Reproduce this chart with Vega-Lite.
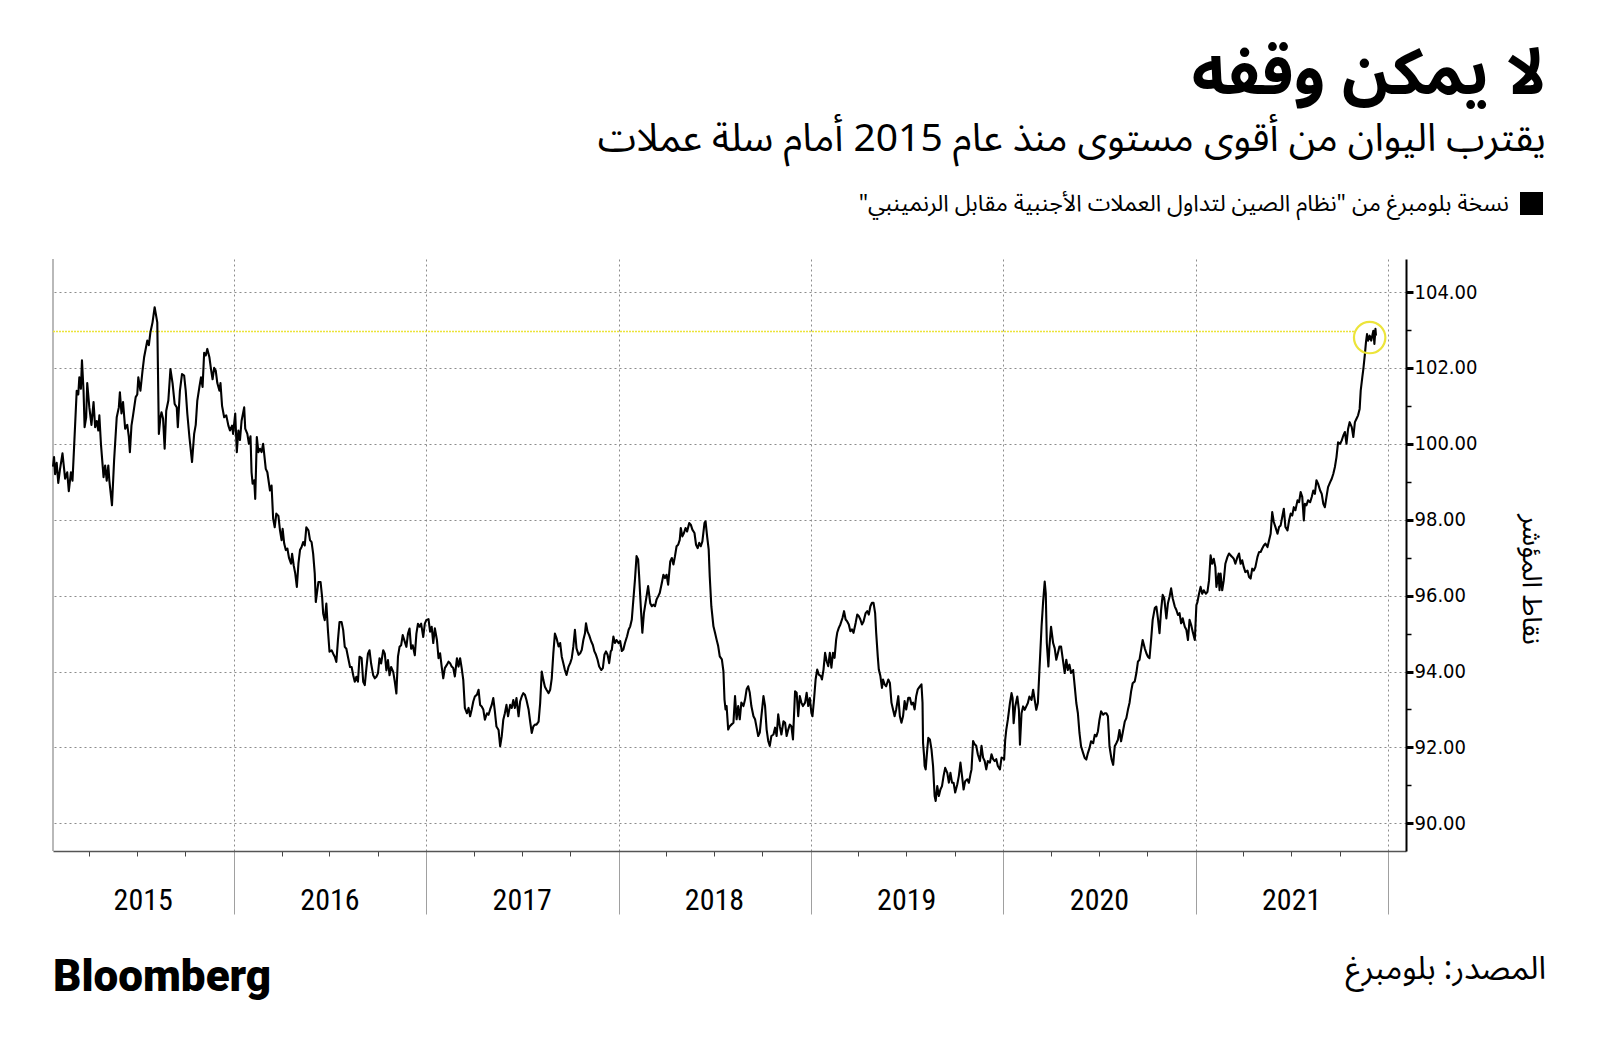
{
"$schema": "https://vega.github.io/schema/vega-lite/v6.json",
"width": 1353,
"height": 592,
"autosize": {"type": "none"},
"padding": {"left": 53, "top": 259, "right": 194, "bottom": 206},
"background": "white",
"config": {"view": {"stroke": null}, "font": "DejaVu Sans"},
"title": {
  "text": "لا يمكن وقفه",
  "subtitle": "يقترب اليوان من أقوى مستوى منذ عام 2015 أمام سلة عملات",
  "anchor": "end",
  "frame": "group",
  "dx": 140,
  "offset": 33,
  "font": "Noto Sans Arabic, DejaVu Sans",
  "fontSize": 64,
  "fontWeight": "bold",
  "color": "#000000",
  "subtitleFont": "Noto Sans Arabic, DejaVu Sans",
  "subtitleFontSize": 39,
  "subtitleColor": "#000000",
  "subtitlePadding": 13
},
"datasets": {
"idx": [
{"d":"2015-01-23","v":99.4},{"d":"2015-01-25","v":99.65},{"d":"2015-01-27","v":99.2},{"d":"2015-01-30","v":99.5},{"d":"2015-02-02","v":98.97},{"d":"2015-02-05","v":99.3},{"d":"2015-02-10","v":99.75},{"d":"2015-02-15","v":99.08},{"d":"2015-02-19","v":99.25},{"d":"2015-02-22","v":98.75},{"d":"2015-02-26","v":99.25},{"d":"2015-03-01","v":99.03},{"d":"2015-03-04","v":99.9},{"d":"2015-03-09","v":101.4},{"d":"2015-03-12","v":101.3},{"d":"2015-03-14","v":101.75},{"d":"2015-03-17","v":101.45},{"d":"2015-03-19","v":102.2},{"d":"2015-03-22","v":101.4},{"d":"2015-03-24","v":100.44},{"d":"2015-03-27","v":100.7},{"d":"2015-03-29","v":101.6},{"d":"2015-04-02","v":100.96},{"d":"2015-04-06","v":100.5},{"d":"2015-04-10","v":101.1},{"d":"2015-04-13","v":100.44},{"d":"2015-04-16","v":100.6},{"d":"2015-04-19","v":100.35},{"d":"2015-04-21","v":100.75},{"d":"2015-04-24","v":100.0},{"d":"2015-04-29","v":99.12},{"d":"2015-05-02","v":99.43},{"d":"2015-05-05","v":99.03},{"d":"2015-05-08","v":99.43},{"d":"2015-05-10","v":99.03},{"d":"2015-05-15","v":98.38},{"d":"2015-05-19","v":99.56},{"d":"2015-05-24","v":100.7},{"d":"2015-05-28","v":100.96},{"d":"2015-05-30","v":101.36},{"d":"2015-06-02","v":100.8},{"d":"2015-06-05","v":101.1},{"d":"2015-06-09","v":100.4},{"d":"2015-06-13","v":100.5},{"d":"2015-06-16","v":100.18},{"d":"2015-06-18","v":99.78},{"d":"2015-06-21","v":100.48},{"d":"2015-06-24","v":100.75},{"d":"2015-06-29","v":101.23},{"d":"2015-07-02","v":101.3},{"d":"2015-07-04","v":101.75},{"d":"2015-07-08","v":101.4},{"d":"2015-07-12","v":101.93},{"d":"2015-07-15","v":102.28},{"d":"2015-07-18","v":102.5},{"d":"2015-07-21","v":102.72},{"d":"2015-07-24","v":102.6},{"d":"2015-07-27","v":102.94},{"d":"2015-07-31","v":103.2},{"d":"2015-08-04","v":103.6},{"d":"2015-08-09","v":103.2},{"d":"2015-08-12","v":100.26},{"d":"2015-08-15","v":100.7},{"d":"2015-08-17","v":100.83},{"d":"2015-08-20","v":100.66},{"d":"2015-08-23","v":99.87},{"d":"2015-08-26","v":100.87},{"d":"2015-08-30","v":101.14},{"d":"2015-09-03","v":101.97},{"d":"2015-09-07","v":101.6},{"d":"2015-09-11","v":101.05},{"d":"2015-09-15","v":100.96},{"d":"2015-09-17","v":100.44},{"d":"2015-09-21","v":101.4},{"d":"2015-09-25","v":101.84},{"d":"2015-09-29","v":101.8},{"d":"2015-10-02","v":101.4},{"d":"2015-10-05","v":100.8},{"d":"2015-10-09","v":100.18},{"d":"2015-10-14","v":99.52},{"d":"2015-10-18","v":100.26},{"d":"2015-10-21","v":100.5},{"d":"2015-10-24","v":101.14},{"d":"2015-10-28","v":101.5},{"d":"2015-10-31","v":101.75},{"d":"2015-11-03","v":101.5},{"d":"2015-11-06","v":102.4},{"d":"2015-11-09","v":102.33},{"d":"2015-11-12","v":102.5},{"d":"2015-11-16","v":102.28},{"d":"2015-11-19","v":101.97},{"d":"2015-11-22","v":101.7},{"d":"2015-11-25","v":102.0},{"d":"2015-11-28","v":101.93},{"d":"2015-12-01","v":101.6},{"d":"2015-12-05","v":101.4},{"d":"2015-12-07","v":101.6},{"d":"2015-12-10","v":101.0},{"d":"2015-12-14","v":100.7},{"d":"2015-12-18","v":100.75},{"d":"2015-12-22","v":100.48},{"d":"2015-12-25","v":100.35},{"d":"2015-12-29","v":100.48},{"d":"2015-12-31","v":100.26},
{"d":"2016-01-04","v":100.8},{"d":"2016-01-07","v":99.78},{"d":"2016-01-10","v":100.35},{"d":"2016-01-13","v":100.1},{"d":"2016-01-16","v":100.6},{"d":"2016-01-21","v":100.96},{"d":"2016-01-23","v":100.4},{"d":"2016-01-27","v":100.26},{"d":"2016-01-30","v":100.0},{"d":"2016-02-02","v":100.2},{"d":"2016-02-04","v":99.25},{"d":"2016-02-06","v":98.95},{"d":"2016-02-09","v":99.04},{"d":"2016-02-11","v":98.55},{"d":"2016-02-14","v":100.18},{"d":"2016-02-17","v":99.78},{"d":"2016-02-20","v":99.87},{"d":"2016-02-23","v":99.78},{"d":"2016-02-26","v":100.0},{"d":"2016-03-02","v":99.34},{"d":"2016-03-05","v":99.25},{"d":"2016-03-10","v":98.77},{"d":"2016-03-13","v":98.9},{"d":"2016-03-16","v":98.03},{"d":"2016-03-19","v":97.8},{"d":"2016-03-22","v":98.16},{"d":"2016-03-26","v":98.1},{"d":"2016-03-29","v":97.72},{"d":"2016-04-01","v":97.46},{"d":"2016-04-03","v":97.76},{"d":"2016-04-06","v":97.37},{"d":"2016-04-09","v":97.2},{"d":"2016-04-12","v":97.24},{"d":"2016-04-15","v":97.0},{"d":"2016-04-19","v":96.84},{"d":"2016-04-21","v":97.1},{"d":"2016-04-24","v":96.8},{"d":"2016-04-27","v":96.58},{"d":"2016-04-30","v":96.23},{"d":"2016-05-03","v":96.84},{"d":"2016-05-06","v":97.2},{"d":"2016-05-09","v":97.28},{"d":"2016-05-12","v":97.41},{"d":"2016-05-15","v":97.32},{"d":"2016-05-18","v":97.8},{"d":"2016-05-22","v":97.72},{"d":"2016-05-25","v":97.46},{"d":"2016-05-28","v":97.41},{"d":"2016-05-31","v":97.1},{"d":"2016-06-03","v":96.58},{"d":"2016-06-05","v":95.83},{"d":"2016-06-07","v":96.05},{"d":"2016-06-10","v":96.36},{"d":"2016-06-14","v":96.36},{"d":"2016-06-17","v":95.96},{"d":"2016-06-19","v":95.53},{"d":"2016-06-22","v":95.35},{"d":"2016-06-25","v":95.79},{"d":"2016-06-28","v":95.09},{"d":"2016-07-01","v":94.52},{"d":"2016-07-05","v":94.56},{"d":"2016-07-08","v":94.47},{"d":"2016-07-11","v":94.39},{"d":"2016-07-14","v":94.25},{"d":"2016-07-17","v":94.82},{"d":"2016-07-20","v":95.3},{"d":"2016-07-24","v":95.3},{"d":"2016-07-27","v":95.09},{"d":"2016-07-30","v":94.65},{"d":"2016-08-02","v":94.6},{"d":"2016-08-05","v":94.39},{"d":"2016-08-09","v":94.12},{"d":"2016-08-12","v":94.12},{"d":"2016-08-15","v":93.9},{"d":"2016-08-18","v":93.73},{"d":"2016-08-21","v":93.86},{"d":"2016-08-24","v":93.73},{"d":"2016-08-27","v":94.39},{"d":"2016-08-31","v":94.35},{"d":"2016-09-03","v":93.73},{"d":"2016-09-06","v":93.64},{"d":"2016-09-09","v":94.08},{"d":"2016-09-12","v":94.47},{"d":"2016-09-15","v":94.56},{"d":"2016-09-18","v":94.21},{"d":"2016-09-22","v":93.9},{"d":"2016-09-25","v":93.82},{"d":"2016-09-28","v":93.86},{"d":"2016-10-01","v":93.95},{"d":"2016-10-04","v":94.35},{"d":"2016-10-07","v":94.21},{"d":"2016-10-11","v":94.56},{"d":"2016-10-14","v":94.47},{"d":"2016-10-17","v":94.03},{"d":"2016-10-20","v":94.3},{"d":"2016-10-23","v":93.9},{"d":"2016-10-26","v":94.12},{"d":"2016-10-30","v":93.99},{"d":"2016-11-02","v":93.73},{"d":"2016-11-05","v":93.42},{"d":"2016-11-08","v":94.39},{"d":"2016-11-11","v":94.65},{"d":"2016-11-14","v":94.69},{"d":"2016-11-17","v":94.96},{"d":"2016-11-21","v":94.78},{"d":"2016-11-24","v":94.65},{"d":"2016-11-27","v":95.0},{"d":"2016-11-30","v":95.13},{"d":"2016-12-03","v":94.6},{"d":"2016-12-06","v":94.69},{"d":"2016-12-10","v":94.43},{"d":"2016-12-13","v":95.0},{"d":"2016-12-16","v":95.26},{"d":"2016-12-19","v":95.18},{"d":"2016-12-22","v":95.26},{"d":"2016-12-26","v":94.91},{"d":"2016-12-29","v":95.26},
{"d":"2017-01-01","v":95.36},{"d":"2017-01-05","v":95.38},{"d":"2017-01-08","v":95.05},{"d":"2017-01-11","v":95.18},{"d":"2017-01-14","v":94.75},{"d":"2017-01-17","v":95.14},{"d":"2017-01-21","v":94.83},{"d":"2017-01-24","v":94.35},{"d":"2017-01-27","v":94.48},{"d":"2017-01-30","v":94.13},{"d":"2017-02-02","v":93.82},{"d":"2017-02-05","v":94.09},{"d":"2017-02-09","v":94.18},{"d":"2017-02-12","v":94.26},{"d":"2017-02-15","v":94.22},{"d":"2017-02-18","v":94.13},{"d":"2017-02-21","v":94.09},{"d":"2017-02-24","v":93.87},{"d":"2017-02-28","v":94.35},{"d":"2017-03-03","v":94.13},{"d":"2017-03-06","v":94.35},{"d":"2017-03-09","v":94.09},{"d":"2017-03-12","v":93.78},{"d":"2017-03-15","v":93.04},{"d":"2017-03-19","v":92.9},{"d":"2017-03-22","v":93.04},{"d":"2017-03-25","v":92.82},{"d":"2017-03-28","v":93.0},{"d":"2017-03-31","v":93.21},{"d":"2017-04-03","v":93.34},{"d":"2017-04-07","v":93.39},{"d":"2017-04-10","v":93.52},{"d":"2017-04-13","v":93.12},{"d":"2017-04-16","v":93.08},{"d":"2017-04-19","v":93.0},{"d":"2017-04-22","v":92.73},{"d":"2017-04-26","v":92.9},{"d":"2017-04-29","v":92.86},{"d":"2017-05-02","v":93.0},{"d":"2017-05-05","v":93.12},{"d":"2017-05-08","v":93.3},{"d":"2017-05-11","v":92.95},{"d":"2017-05-14","v":92.55},{"d":"2017-05-18","v":92.46},{"d":"2017-05-21","v":92.03},{"d":"2017-05-24","v":92.29},{"d":"2017-05-27","v":92.73},{"d":"2017-05-30","v":92.9},{"d":"2017-06-02","v":93.12},{"d":"2017-06-05","v":92.82},{"d":"2017-06-09","v":93.12},{"d":"2017-06-12","v":93.04},{"d":"2017-06-15","v":93.25},{"d":"2017-06-18","v":93.04},{"d":"2017-06-21","v":93.3},{"d":"2017-06-25","v":92.82},{"d":"2017-06-28","v":93.21},{"d":"2017-07-01","v":93.34},{"d":"2017-07-04","v":93.43},{"d":"2017-07-07","v":93.39},{"d":"2017-07-10","v":93.25},{"d":"2017-07-14","v":93.0},{"d":"2017-07-17","v":92.68},{"d":"2017-07-20","v":92.38},{"d":"2017-07-23","v":92.55},{"d":"2017-07-26","v":92.6},{"d":"2017-07-29","v":92.6},{"d":"2017-08-02","v":92.68},{"d":"2017-08-05","v":93.17},{"d":"2017-08-08","v":94.0},{"d":"2017-08-11","v":93.78},{"d":"2017-08-14","v":93.6},{"d":"2017-08-17","v":93.52},{"d":"2017-08-21","v":93.43},{"d":"2017-08-24","v":93.52},{"d":"2017-08-27","v":93.82},{"d":"2017-08-30","v":94.48},{"d":"2017-09-02","v":95.0},{"d":"2017-09-05","v":94.88},{"d":"2017-09-09","v":94.66},{"d":"2017-09-12","v":94.75},{"d":"2017-09-15","v":94.39},{"d":"2017-09-18","v":94.22},{"d":"2017-09-21","v":94.04},{"d":"2017-09-24","v":93.91},{"d":"2017-09-28","v":94.13},{"d":"2017-10-01","v":94.22},{"d":"2017-10-04","v":94.35},{"d":"2017-10-07","v":94.66},{"d":"2017-10-10","v":95.1},{"d":"2017-10-13","v":94.61},{"d":"2017-10-17","v":94.44},{"d":"2017-10-20","v":94.48},{"d":"2017-10-23","v":94.57},{"d":"2017-10-26","v":94.83},{"d":"2017-10-29","v":95.0},{"d":"2017-10-31","v":95.27},{"d":"2017-11-03","v":95.05},{"d":"2017-11-06","v":94.96},{"d":"2017-11-10","v":94.79},{"d":"2017-11-13","v":94.7},{"d":"2017-11-16","v":94.53},{"d":"2017-11-19","v":94.44},{"d":"2017-11-22","v":94.31},{"d":"2017-11-25","v":94.13},{"d":"2017-11-29","v":94.04},{"d":"2017-12-02","v":94.09},{"d":"2017-12-05","v":94.44},{"d":"2017-12-08","v":94.53},{"d":"2017-12-11","v":94.44},{"d":"2017-12-14","v":94.22},{"d":"2017-12-17","v":94.53},{"d":"2017-12-19","v":94.57},{"d":"2017-12-22","v":94.92},{"d":"2017-12-25","v":94.75},{"d":"2017-12-28","v":94.83},
{"d":"2018-01-01","v":94.75},{"d":"2018-01-04","v":94.8},{"d":"2018-01-07","v":94.54},{"d":"2018-01-10","v":94.58},{"d":"2018-01-13","v":94.75},{"d":"2018-01-17","v":94.93},{"d":"2018-01-20","v":95.1},{"d":"2018-01-23","v":95.19},{"d":"2018-01-26","v":95.37},{"d":"2018-01-29","v":95.9},{"d":"2018-02-01","v":96.42},{"d":"2018-02-04","v":97.04},{"d":"2018-02-07","v":96.95},{"d":"2018-02-09","v":96.5},{"d":"2018-02-12","v":95.72},{"d":"2018-02-15","v":95.02},{"d":"2018-02-18","v":95.54},{"d":"2018-02-21","v":95.8},{"d":"2018-02-24","v":96.07},{"d":"2018-02-26","v":96.25},{"d":"2018-03-02","v":95.8},{"d":"2018-03-05","v":95.72},{"d":"2018-03-08","v":95.76},{"d":"2018-03-11","v":95.72},{"d":"2018-03-14","v":95.9},{"d":"2018-03-17","v":95.98},{"d":"2018-03-20","v":96.07},{"d":"2018-03-24","v":96.33},{"d":"2018-03-27","v":96.55},{"d":"2018-03-30","v":96.46},{"d":"2018-04-02","v":96.55},{"d":"2018-04-05","v":96.29},{"d":"2018-04-09","v":96.9},{"d":"2018-04-12","v":96.99},{"d":"2018-04-15","v":96.82},{"d":"2018-04-18","v":97.04},{"d":"2018-04-21","v":97.3},{"d":"2018-04-24","v":97.34},{"d":"2018-04-27","v":97.47},{"d":"2018-04-29","v":97.78},{"d":"2018-05-02","v":97.56},{"d":"2018-05-05","v":97.65},{"d":"2018-05-08","v":97.78},{"d":"2018-05-11","v":97.69},{"d":"2018-05-15","v":97.91},{"d":"2018-05-18","v":97.87},{"d":"2018-05-21","v":97.74},{"d":"2018-05-25","v":97.65},{"d":"2018-05-28","v":97.34},{"d":"2018-05-31","v":97.25},{"d":"2018-06-03","v":97.39},{"d":"2018-06-06","v":97.3},{"d":"2018-06-09","v":97.43},{"d":"2018-06-13","v":97.91},{"d":"2018-06-15","v":97.96},{"d":"2018-06-18","v":97.56},{"d":"2018-06-21","v":97.21},{"d":"2018-06-23","v":96.5},{"d":"2018-06-26","v":95.72},{"d":"2018-06-30","v":95.19},{"d":"2018-07-03","v":95.02},{"d":"2018-07-06","v":94.84},{"d":"2018-07-09","v":94.67},{"d":"2018-07-12","v":94.4},{"d":"2018-07-16","v":94.32},{"d":"2018-07-19","v":94.0},{"d":"2018-07-21","v":93.26},{"d":"2018-07-23","v":93.0},{"d":"2018-07-25","v":93.09},{"d":"2018-07-28","v":92.47},{"d":"2018-07-31","v":92.56},{"d":"2018-08-03","v":92.6},{"d":"2018-08-07","v":92.65},{"d":"2018-08-10","v":93.35},{"d":"2018-08-13","v":92.74},{"d":"2018-08-16","v":93.09},{"d":"2018-08-19","v":92.74},{"d":"2018-08-22","v":93.18},{"d":"2018-08-26","v":93.09},{"d":"2018-08-29","v":93.26},{"d":"2018-09-01","v":93.53},{"d":"2018-09-04","v":93.61},{"d":"2018-09-07","v":93.44},{"d":"2018-09-10","v":93.09},{"d":"2018-09-14","v":92.82},{"d":"2018-09-17","v":92.74},{"d":"2018-09-20","v":92.52},{"d":"2018-09-23","v":92.3},{"d":"2018-09-26","v":92.39},{"d":"2018-09-29","v":92.82},{"d":"2018-10-03","v":93.35},{"d":"2018-10-06","v":93.09},{"d":"2018-10-09","v":92.47},{"d":"2018-10-12","v":92.17},{"d":"2018-10-15","v":92.04},{"d":"2018-10-18","v":92.3},{"d":"2018-10-22","v":92.34},{"d":"2018-10-25","v":92.52},{"d":"2018-10-28","v":92.3},{"d":"2018-10-31","v":92.87},{"d":"2018-11-03","v":92.56},{"d":"2018-11-06","v":92.34},{"d":"2018-11-10","v":92.69},{"d":"2018-11-13","v":92.65},{"d":"2018-11-16","v":92.3},{"d":"2018-11-19","v":92.47},{"d":"2018-11-22","v":92.6},{"d":"2018-11-25","v":92.56},{"d":"2018-11-28","v":92.21},{"d":"2018-12-02","v":93.48},{"d":"2018-12-05","v":93.44},{"d":"2018-12-08","v":92.82},{"d":"2018-12-11","v":93.35},{"d":"2018-12-14","v":93.18},{"d":"2018-12-17","v":93.09},{"d":"2018-12-21","v":93.18},{"d":"2018-12-24","v":93.44},{"d":"2018-12-27","v":93.09},{"d":"2018-12-30","v":93.3},
{"d":"2019-01-02","v":92.91},{"d":"2019-01-04","v":92.82},{"d":"2019-01-07","v":93.26},{"d":"2019-01-10","v":93.79},{"d":"2019-01-13","v":94.05},{"d":"2019-01-16","v":93.92},{"d":"2019-01-20","v":93.88},{"d":"2019-01-22","v":93.79},{"d":"2019-01-25","v":94.05},{"d":"2019-01-28","v":94.49},{"d":"2019-01-31","v":94.27},{"d":"2019-02-03","v":94.14},{"d":"2019-02-06","v":94.49},{"d":"2019-02-09","v":94.1},{"d":"2019-02-12","v":94.49},{"d":"2019-02-15","v":94.36},{"d":"2019-02-18","v":94.84},{"d":"2019-02-20","v":95.02},{"d":"2019-02-23","v":95.15},{"d":"2019-02-26","v":95.24},{"d":"2019-03-02","v":95.41},{"d":"2019-03-05","v":95.59},{"d":"2019-03-08","v":95.37},{"d":"2019-03-11","v":95.32},{"d":"2019-03-14","v":95.24},{"d":"2019-03-17","v":95.06},{"d":"2019-03-20","v":95.11},{"d":"2019-03-23","v":95.02},{"d":"2019-03-27","v":95.28},{"d":"2019-03-30","v":95.5},{"d":"2019-04-02","v":95.46},{"d":"2019-04-05","v":95.37},{"d":"2019-04-08","v":95.24},{"d":"2019-04-11","v":95.32},{"d":"2019-04-15","v":95.54},{"d":"2019-04-18","v":95.59},{"d":"2019-04-21","v":95.5},{"d":"2019-04-24","v":95.72},{"d":"2019-04-27","v":95.81},{"d":"2019-04-30","v":95.81},{"d":"2019-05-03","v":95.54},{"d":"2019-05-05","v":95.02},{"d":"2019-05-08","v":94.4},{"d":"2019-05-10","v":94.05},{"d":"2019-05-13","v":93.88},{"d":"2019-05-16","v":93.57},{"d":"2019-05-18","v":93.79},{"d":"2019-05-21","v":93.66},{"d":"2019-05-24","v":93.61},{"d":"2019-05-28","v":93.79},{"d":"2019-05-31","v":93.7},{"d":"2019-06-03","v":93.18},{"d":"2019-06-06","v":93.0},{"d":"2019-06-09","v":92.82},{"d":"2019-06-12","v":93.0},{"d":"2019-06-16","v":93.35},{"d":"2019-06-19","v":92.82},{"d":"2019-06-22","v":92.65},{"d":"2019-06-25","v":92.82},{"d":"2019-06-28","v":93.22},{"d":"2019-07-01","v":93.0},{"d":"2019-07-05","v":93.31},{"d":"2019-07-08","v":93.31},{"d":"2019-07-11","v":93.13},{"d":"2019-07-14","v":93.18},{"d":"2019-07-17","v":93.0},{"d":"2019-07-20","v":93.35},{"d":"2019-07-23","v":93.53},{"d":"2019-07-27","v":93.61},{"d":"2019-07-30","v":93.66},{"d":"2019-08-01","v":93.18},{"d":"2019-08-02","v":92.12},{"d":"2019-08-04","v":91.77},{"d":"2019-08-05","v":91.51},{"d":"2019-08-07","v":91.42},{"d":"2019-08-10","v":91.95},{"d":"2019-08-12","v":92.25},{"d":"2019-08-15","v":92.21},{"d":"2019-08-18","v":91.95},{"d":"2019-08-21","v":91.51},{"d":"2019-08-24","v":90.72},{"d":"2019-08-26","v":90.59},{"d":"2019-08-29","v":90.98},{"d":"2019-09-01","v":90.72},{"d":"2019-09-04","v":90.89},{"d":"2019-09-07","v":90.98},{"d":"2019-09-10","v":91.25},{"d":"2019-09-13","v":91.46},{"d":"2019-09-17","v":91.33},{"d":"2019-09-20","v":91.07},{"d":"2019-09-23","v":91.33},{"d":"2019-09-26","v":91.07},{"d":"2019-09-29","v":91.07},{"d":"2019-10-02","v":90.81},{"d":"2019-10-06","v":91.03},{"d":"2019-10-09","v":91.25},{"d":"2019-10-12","v":91.6},{"d":"2019-10-15","v":91.25},{"d":"2019-10-18","v":90.89},{"d":"2019-10-21","v":91.11},{"d":"2019-10-25","v":91.16},{"d":"2019-10-28","v":91.07},{"d":"2019-10-31","v":91.29},{"d":"2019-11-02","v":91.42},{"d":"2019-11-05","v":92.17},{"d":"2019-11-08","v":92.08},{"d":"2019-11-11","v":92.04},{"d":"2019-11-14","v":91.82},{"d":"2019-11-18","v":91.64},{"d":"2019-11-21","v":92.04},{"d":"2019-11-24","v":91.73},{"d":"2019-11-27","v":91.64},{"d":"2019-11-30","v":91.42},{"d":"2019-12-03","v":91.64},{"d":"2019-12-07","v":91.6},{"d":"2019-12-10","v":91.82},{"d":"2019-12-13","v":91.69},{"d":"2019-12-16","v":91.64},{"d":"2019-12-19","v":91.69},{"d":"2019-12-22","v":91.51},{"d":"2019-12-26","v":91.42},{"d":"2019-12-29","v":91.73},
{"d":"2020-01-01","v":91.72},{"d":"2020-01-03","v":91.68},{"d":"2020-01-05","v":92.2},{"d":"2020-01-07","v":92.46},{"d":"2020-01-10","v":92.73},{"d":"2020-01-14","v":93.17},{"d":"2020-01-17","v":93.43},{"d":"2020-01-19","v":93.3},{"d":"2020-01-21","v":92.64},{"d":"2020-01-24","v":93.08},{"d":"2020-01-28","v":93.34},{"d":"2020-01-31","v":92.99},{"d":"2020-02-02","v":92.07},{"d":"2020-02-05","v":92.9},{"d":"2020-02-08","v":93.08},{"d":"2020-02-11","v":92.99},{"d":"2020-02-14","v":93.08},{"d":"2020-02-17","v":93.17},{"d":"2020-02-20","v":93.34},{"d":"2020-02-24","v":93.25},{"d":"2020-02-27","v":93.52},{"d":"2020-03-01","v":93.25},{"d":"2020-03-04","v":92.99},{"d":"2020-03-07","v":93.17},{"d":"2020-03-10","v":94.04},{"d":"2020-03-14","v":95.18},{"d":"2020-03-17","v":95.84},{"d":"2020-03-20","v":96.37},{"d":"2020-03-22","v":96.06},{"d":"2020-03-24","v":94.75},{"d":"2020-03-27","v":94.13},{"d":"2020-03-29","v":94.66},{"d":"2020-04-01","v":95.18},{"d":"2020-04-05","v":94.75},{"d":"2020-04-08","v":94.61},{"d":"2020-04-11","v":94.31},{"d":"2020-04-14","v":94.48},{"d":"2020-04-17","v":94.66},{"d":"2020-04-20","v":94.66},{"d":"2020-04-24","v":94.26},{"d":"2020-04-27","v":93.96},{"d":"2020-04-30","v":94.31},{"d":"2020-05-03","v":94.04},{"d":"2020-05-06","v":94.18},{"d":"2020-05-09","v":93.96},{"d":"2020-05-13","v":94.04},{"d":"2020-05-16","v":93.61},{"d":"2020-05-19","v":93.17},{"d":"2020-05-22","v":92.9},{"d":"2020-05-25","v":92.38},{"d":"2020-05-28","v":92.03},{"d":"2020-06-01","v":91.85},{"d":"2020-06-04","v":91.72},{"d":"2020-06-07","v":91.68},{"d":"2020-06-10","v":91.85},{"d":"2020-06-13","v":91.98},{"d":"2020-06-16","v":92.16},{"d":"2020-06-20","v":92.11},{"d":"2020-06-23","v":92.33},{"d":"2020-06-26","v":92.29},{"d":"2020-06-29","v":92.42},{"d":"2020-07-02","v":92.73},{"d":"2020-07-05","v":92.95},{"d":"2020-07-09","v":92.86},{"d":"2020-07-12","v":92.9},{"d":"2020-07-15","v":92.9},{"d":"2020-07-18","v":92.82},{"d":"2020-07-21","v":92.03},{"d":"2020-07-25","v":91.68},{"d":"2020-07-28","v":91.54},{"d":"2020-07-31","v":92.03},{"d":"2020-08-03","v":92.11},{"d":"2020-08-06","v":92.2},{"d":"2020-08-09","v":92.46},{"d":"2020-08-12","v":92.16},{"d":"2020-08-15","v":92.38},{"d":"2020-08-19","v":92.68},{"d":"2020-08-22","v":92.77},{"d":"2020-08-25","v":92.99},{"d":"2020-08-28","v":93.17},{"d":"2020-08-31","v":93.47},{"d":"2020-09-03","v":93.69},{"d":"2020-09-07","v":93.74},{"d":"2020-09-10","v":93.96},{"d":"2020-09-13","v":94.26},{"d":"2020-09-16","v":94.31},{"d":"2020-09-19","v":94.57},{"d":"2020-09-22","v":94.83},{"d":"2020-09-26","v":94.61},{"d":"2020-09-29","v":94.48},{"d":"2020-10-02","v":94.39},{"d":"2020-10-05","v":94.35},{"d":"2020-10-08","v":94.83},{"d":"2020-10-11","v":95.36},{"d":"2020-10-15","v":95.67},{"d":"2020-10-18","v":95.71},{"d":"2020-10-21","v":95.4},{"d":"2020-10-24","v":95.01},{"d":"2020-10-27","v":95.62},{"d":"2020-10-30","v":96.02},{"d":"2020-11-02","v":95.93},{"d":"2020-11-06","v":95.4},{"d":"2020-11-09","v":95.8},{"d":"2020-11-12","v":95.97},{"d":"2020-11-15","v":96.19},{"d":"2020-11-18","v":95.93},{"d":"2020-11-22","v":95.71},{"d":"2020-11-25","v":95.62},{"d":"2020-11-28","v":95.49},{"d":"2020-12-01","v":95.54},{"d":"2020-12-04","v":95.27},{"d":"2020-12-07","v":95.4},{"d":"2020-12-11","v":95.18},{"d":"2020-12-14","v":95.1},{"d":"2020-12-17","v":94.83},{"d":"2020-12-20","v":95.36},{"d":"2020-12-23","v":95.23},{"d":"2020-12-26","v":95.05},{"d":"2020-12-30","v":94.83},
{"d":"2021-01-02","v":95.75},{"d":"2021-01-04","v":95.83},{"d":"2021-01-07","v":96.05},{"d":"2021-01-10","v":96.23},{"d":"2021-01-13","v":96.05},{"d":"2021-01-16","v":96.14},{"d":"2021-01-20","v":96.05},{"d":"2021-01-23","v":96.1},{"d":"2021-01-26","v":96.4},{"d":"2021-01-29","v":97.06},{"d":"2021-02-01","v":96.84},{"d":"2021-02-04","v":96.97},{"d":"2021-02-07","v":96.75},{"d":"2021-02-09","v":96.23},{"d":"2021-02-13","v":96.58},{"d":"2021-02-15","v":96.14},{"d":"2021-02-17","v":96.58},{"d":"2021-02-20","v":96.14},{"d":"2021-02-23","v":96.4},{"d":"2021-02-26","v":96.84},{"d":"2021-03-02","v":97.02},{"d":"2021-03-05","v":97.11},{"d":"2021-03-08","v":97.06},{"d":"2021-03-11","v":97.02},{"d":"2021-03-14","v":96.97},{"d":"2021-03-17","v":96.84},{"d":"2021-03-21","v":97.02},{"d":"2021-03-24","v":97.11},{"d":"2021-03-27","v":96.84},{"d":"2021-03-30","v":96.93},{"d":"2021-04-02","v":96.75},{"d":"2021-04-05","v":96.62},{"d":"2021-04-09","v":96.66},{"d":"2021-04-12","v":96.49},{"d":"2021-04-15","v":96.45},{"d":"2021-04-18","v":96.71},{"d":"2021-04-21","v":96.66},{"d":"2021-04-24","v":96.75},{"d":"2021-04-28","v":97.02},{"d":"2021-05-01","v":97.15},{"d":"2021-05-04","v":97.15},{"d":"2021-05-07","v":97.24},{"d":"2021-05-10","v":97.32},{"d":"2021-05-13","v":97.37},{"d":"2021-05-17","v":97.28},{"d":"2021-05-20","v":97.46},{"d":"2021-05-23","v":97.63},{"d":"2021-05-26","v":98.2},{"d":"2021-05-29","v":97.94},{"d":"2021-06-01","v":97.81},{"d":"2021-06-05","v":97.63},{"d":"2021-06-08","v":97.81},{"d":"2021-06-11","v":97.85},{"d":"2021-06-14","v":98.07},{"d":"2021-06-17","v":98.29},{"d":"2021-06-20","v":97.81},{"d":"2021-06-24","v":97.72},{"d":"2021-06-27","v":97.98},{"d":"2021-06-30","v":98.16},{"d":"2021-07-03","v":98.11},{"d":"2021-07-06","v":98.33},{"d":"2021-07-09","v":98.25},{"d":"2021-07-13","v":98.51},{"d":"2021-07-16","v":98.46},{"d":"2021-07-19","v":98.73},{"d":"2021-07-22","v":98.6},{"d":"2021-07-25","v":97.98},{"d":"2021-07-27","v":98.42},{"d":"2021-07-30","v":98.38},{"d":"2021-08-02","v":98.51},{"d":"2021-08-06","v":98.46},{"d":"2021-08-09","v":98.6},{"d":"2021-08-12","v":98.77},{"d":"2021-08-15","v":98.68},{"d":"2021-08-18","v":99.04},{"d":"2021-08-21","v":98.95},{"d":"2021-08-25","v":98.77},{"d":"2021-08-28","v":98.68},{"d":"2021-08-31","v":98.42},{"d":"2021-09-03","v":98.33},{"d":"2021-09-06","v":98.6},{"d":"2021-09-09","v":98.86},{"d":"2021-09-13","v":98.99},{"d":"2021-09-16","v":99.08},{"d":"2021-09-19","v":99.21},{"d":"2021-09-22","v":99.39},{"d":"2021-09-25","v":99.65},{"d":"2021-09-28","v":100.04},{"d":"2021-10-02","v":100.0},{"d":"2021-10-05","v":100.09},{"d":"2021-10-08","v":100.22},{"d":"2021-10-11","v":100.31},{"d":"2021-10-14","v":100.0},{"d":"2021-10-17","v":100.39},{"d":"2021-10-20","v":100.57},{"d":"2021-10-24","v":100.44},{"d":"2021-10-27","v":100.18},{"d":"2021-10-30","v":100.57},{"d":"2021-11-02","v":100.66},{"d":"2021-11-05","v":100.75},{"d":"2021-11-08","v":100.92},{"d":"2021-11-10","v":101.4},{"d":"2021-11-13","v":101.75},{"d":"2021-11-15","v":101.97},{"d":"2021-11-18","v":102.37},{"d":"2021-11-20","v":102.68},{"d":"2021-11-22","v":102.89},{"d":"2021-11-24","v":102.72},{"d":"2021-11-27","v":102.85},{"d":"2021-11-30","v":102.72},{"d":"2021-12-04","v":102.98},{"d":"2021-12-06","v":102.63},{"d":"2021-12-08","v":103.03},{"d":"2021-12-09","v":102.85}
],
"mark": [{"d":"2021-11-27","v":102.8}],
"ref": [{"d":"2015-01-23","d2":"2021-11-01","v":102.96}],
"border": [{"d":"2015-01-23"}],
"logo": [{"t":"Bloomberg"}],
"src": [{"t":"المصدر: بلومبرغ"}]
},
"layer": [
{
  "data": {"name": "border"},
  "mark": {"type": "rule", "color": "#8a8a8a", "strokeWidth": 1.2},
  "encoding": {"x": {"field": "d", "type": "temporal"}}
},
{
  "data": {"name": "ref"},
  "mark": {"type": "rule", "color": "#ece43a", "strokeWidth": 1.6, "strokeDash": [2, 1]},
  "encoding": {
    "x": {"field": "d", "type": "temporal"},
    "x2": {"field": "d2"},
    "y": {"field": "v", "type": "quantitative"}
  }
},
{
  "data": {"name": "idx"},
  "mark": {"type": "line", "strokeWidth": 2.1, "strokeJoin": "round"},
  "encoding": {
    "x": {
      "field": "d", "type": "temporal",
      "scale": {"domain": [{"year": 2015, "month": 1, "date": 23, "utc": true}, {"year": 2022, "month": 2, "date": 4, "utc": true}]},
      "axis": {
        "orient": "bottom",
        "title": null,
        "values": [
          {"year": 2015, "month": 4, "date": 1, "utc": true}, {"year": 2015, "month": 7, "date": 1, "utc": true}, {"year": 2015, "month": 10, "date": 1, "utc": true},
          {"year": 2016, "month": 1, "date": 1, "utc": true}, {"year": 2016, "month": 4, "date": 1, "utc": true}, {"year": 2016, "month": 7, "date": 1, "utc": true}, {"year": 2016, "month": 10, "date": 1, "utc": true},
          {"year": 2017, "month": 1, "date": 1, "utc": true}, {"year": 2017, "month": 4, "date": 1, "utc": true}, {"year": 2017, "month": 7, "date": 1, "utc": true}, {"year": 2017, "month": 10, "date": 1, "utc": true},
          {"year": 2018, "month": 1, "date": 1, "utc": true}, {"year": 2018, "month": 4, "date": 1, "utc": true}, {"year": 2018, "month": 7, "date": 1, "utc": true}, {"year": 2018, "month": 10, "date": 1, "utc": true},
          {"year": 2019, "month": 1, "date": 1, "utc": true}, {"year": 2019, "month": 4, "date": 1, "utc": true}, {"year": 2019, "month": 7, "date": 1, "utc": true}, {"year": 2019, "month": 10, "date": 1, "utc": true},
          {"year": 2020, "month": 1, "date": 1, "utc": true}, {"year": 2020, "month": 4, "date": 1, "utc": true}, {"year": 2020, "month": 7, "date": 1, "utc": true}, {"year": 2020, "month": 10, "date": 1, "utc": true},
          {"year": 2021, "month": 1, "date": 1, "utc": true}, {"year": 2021, "month": 4, "date": 1, "utc": true}, {"year": 2021, "month": 7, "date": 1, "utc": true}, {"year": 2021, "month": 10, "date": 1, "utc": true},
          {"year": 2022, "month": 1, "date": 1, "utc": true}
        ],
        "grid": true,
        "gridColor": "#8c8c8c",
        "gridDash": [2, 3],
        "gridWidth": 1,
        "gridOpacity": {"condition": {"test": "utcmonth(datum.value) == 0", "value": 1}, "value": 0},
        "tickSize": {"condition": {"test": "utcmonth(datum.value) == 0", "value": 63}, "value": 5},
        "tickColor": {"condition": {"test": "utcmonth(datum.value) == 0", "value": "#a0a0a0"}, "value": "#444444"},
        "tickWidth": 1,
        "labelExpr": "utcmonth(datum.value) == 6 ? utcFormat(datum.value, '%Y') : ''",
        "labelOffset": {"condition": {"test": "utcyear(datum.value) == 2015", "value": 6}, "value": 0},
        "labelFont": "Liberation Sans Narrow, Roboto Condensed, Roboto",
        "labelFontSize": 30,
        "labelColor": "#000000",
        "labelBaseline": "middle",
        "labelPadding": 44,
        "labelFlush": false,
        "labelOverlap": false,
        "domainColor": "#555555",
        "domainWidth": 1.5
      }
    },
    "y": {
      "field": "v", "type": "quantitative",
      "scale": {"domain": [89.27, 104.87], "nice": false, "zero": false},
      "axis": {
        "orient": "right",
        "values": [90, 91, 92, 93, 94, 95, 96, 97, 98, 99, 100, 101, 102, 103, 104],
        "grid": true,
        "gridColor": "#8c8c8c",
        "gridDash": [2, 3],
        "gridWidth": 1,
        "gridOpacity": {"condition": {"test": "datum.value % 2 == 0", "value": 1}, "value": 0},
        "tickSize": {"condition": {"test": "datum.value % 2 == 0", "value": 7}, "value": 5},
        "tickWidth": {"condition": {"test": "datum.value % 2 == 0", "value": 3}, "value": 1.5},
        "tickColor": "#000000",
        "labelExpr": "datum.value % 2 == 0 ? format(datum.value, '.2f') : ''",
        "labelFont": "DejaVu Sans Condensed, DejaVu Sans",
        "labelFontSize": 20,
        "labelColor": "#000000",
        "labelPadding": 1,
        "labelOverlap": false,
        "domainColor": "#000000",
        "domainWidth": 2,
        "title": "نقاط المؤشر",
        "titleFont": "Noto Sans Arabic, DejaVu Sans",
        "titleFontSize": 27,
        "titleFontWeight": "normal",
        "titleColor": "#000000",
        "titleAngle": 90,
        "titleAlign": "center",
        "titleBaseline": "middle",
        "titleX": 124,
        "titleY": 320
      }
    },
    "color": {
      "datum": "نسخة بلومبرغ من \"نظام الصين لتداول العملات الأجنبية مقابل الرنمينبي\"\u200f",
      "scale": {"range": ["#000000"]},
      "legend": {
        "orient": "none",
        "legendX": 1467,
        "legendY": -67,
        "title": null,
        "padding": 0,
        "symbolType": "square",
        "symbolSize": 529,
        "symbolFillColor": "#000000",
        "symbolStrokeColor": "#000000",
        "symbolStrokeWidth": 0,
        "labelAlign": "right",
        "labelOffset": -34,
        "labelFont": "Noto Sans Arabic, DejaVu Sans",
        "labelFontSize": 23,
        "labelColor": "#000000",
        "labelLimit": 0
      }
    }
  }
},
{
  "data": {"name": "mark"},
  "mark": {"type": "point", "shape": "circle", "filled": false, "size": 986, "stroke": "#ece43a", "strokeWidth": 2.2, "opacity": 1},
  "encoding": {
    "x": {"field": "d", "type": "temporal"},
    "y": {"field": "v", "type": "quantitative"}
  }
},
{
  "data": {"name": "logo"},
  "mark": {"type": "text", "align": "left", "baseline": "alphabetic", "font": "Roboto", "fontWeight": 900, "fontSize": 44, "color": "#000000"},
  "encoding": {"text": {"field": "t"}, "x": {"value": 0}, "y": {"value": 732}}
},
{
  "data": {"name": "src"},
  "mark": {"type": "text", "align": "right", "baseline": "middle", "font": "Noto Sans Arabic, DejaVu Sans", "fontSize": 32, "color": "#000000"},
  "encoding": {"text": {"field": "t"}, "x": {"value": 1493}, "y": {"value": 710}}
}
]
}
